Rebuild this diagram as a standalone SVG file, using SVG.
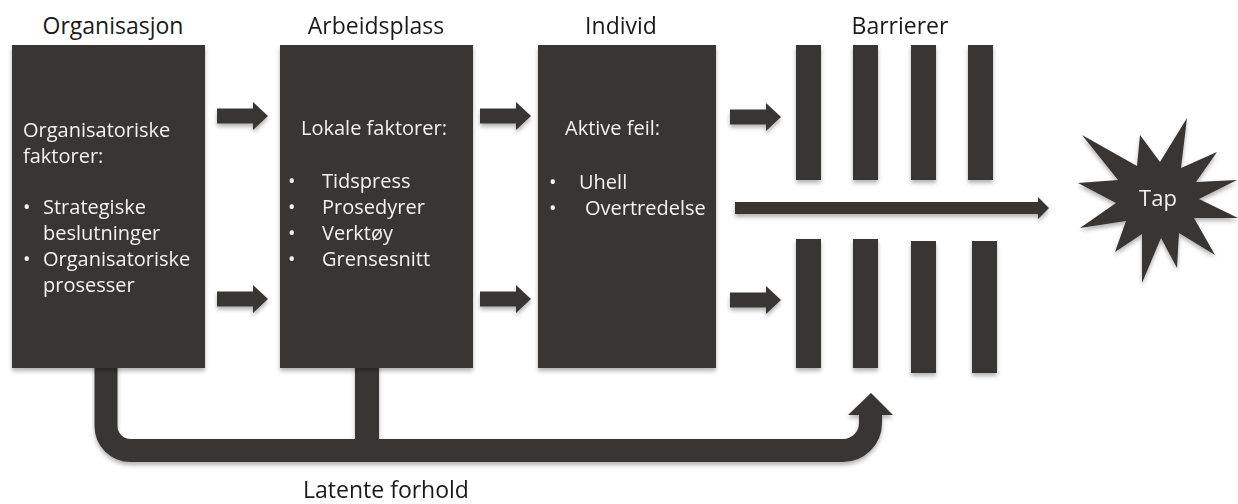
<svg xmlns="http://www.w3.org/2000/svg" xmlns:xlink="http://www.w3.org/1999/xlink" width="1238" height="504" viewBox="0 0 1238 504">
  <style>
    .shape { fill: #383635; }
    .title { font-family: "Open Sans", "Liberation Sans", sans-serif; font-size: 23px; fill: #1a1a1a; }
    .btext { font-family: "Open Sans", "Liberation Sans", sans-serif; font-size: 20px; fill: #f2f2f2; }
    .band { fill: none; stroke: #383635; stroke-width: 23; }
  </style>
  <defs>
    <filter id="sh" x="-20%" y="-20%" width="140%" height="140%">
      <feDropShadow dx="0" dy="3" stdDeviation="2" flood-color="#000" flood-opacity="0.3"/>
    </filter>
    <path id="sa" d="M0 -7.5 H36 V-14 L51 0 L36 14 V7.5 H0 Z"/>
  </defs>
  <rect width="1238" height="504" fill="#ffffff"/>

  <g id="connectors" filter="url(#sh)">
    <use xlink:href="#sa" class="shape" x="217" y="116"/>
    <use xlink:href="#sa" class="shape" x="217" y="299"/>
    <use xlink:href="#sa" class="shape" x="480" y="116"/>
    <use xlink:href="#sa" class="shape" x="480" y="299"/>
    <use xlink:href="#sa" class="shape" x="730" y="117"/>
    <use xlink:href="#sa" class="shape" x="730" y="300"/>
    <path class="shape" d="M735 202 H1038 V197 L1049 208 L1038 219 V214 H735 Z"/>
    <path class="band" d="M106 360 V426 A24.5 24.5 0 0 0 130.5 450.5 H843 A27.5 27.5 0 0 0 870.5 423 V412"/>
    <rect class="shape" x="355" y="360" width="24" height="85"/>
    <polygon class="shape" points="848,415 871,393 893,415"/>
  </g>

  <g id="organisasjon">
    <text class="title" x="113" y="34" text-anchor="middle">Organisasjon</text>
    <rect class="shape" x="12" y="45" width="193" height="323" filter="url(#sh)"/>
    <text class="btext" x="23" y="137">Organisatoriske</text>
    <text class="btext" x="23" y="163">faktorer:</text>
    <text class="btext" x="23" y="214">•</text>
    <text class="btext" x="43" y="214">Strategiske</text>
    <text class="btext" x="43" y="240">beslutninger</text>
    <text class="btext" x="23" y="266">•</text>
    <text class="btext" x="43" y="266">Organisatoriske</text>
    <text class="btext" x="43" y="292">prosesser</text>
  </g>

  <g id="arbeidsplass">
    <text class="title" x="376" y="34" text-anchor="middle">Arbeidsplass</text>
    <rect class="shape" x="280" y="45" width="193" height="323" filter="url(#sh)"/>
    <text class="btext" x="301" y="135">Lokale faktorer:</text>
    <text class="btext" x="288" y="188">•</text>
    <text class="btext" x="322" y="188">Tidspress</text>
    <text class="btext" x="288" y="214">•</text>
    <text class="btext" x="322" y="214">Prosedyrer</text>
    <text class="btext" x="288" y="240">•</text>
    <text class="btext" x="322" y="240">Verktøy</text>
    <text class="btext" x="288" y="266">•</text>
    <text class="btext" x="322" y="266">Grensesnitt</text>
  </g>

  <g id="individ">
    <text class="title" x="621" y="34" text-anchor="middle">Individ</text>
    <rect class="shape" x="538" y="45" width="178" height="323" filter="url(#sh)"/>
    <text class="btext" x="565" y="135">Aktive feil:</text>
    <text class="btext" x="549" y="189">•</text>
    <text class="btext" x="579" y="189">Uhell</text>
    <text class="btext" x="549" y="215">•</text>
    <text class="btext" x="585" y="215">Overtredelse</text>
  </g>

  <g id="barrierer">
    <text class="title" x="900" y="34" text-anchor="middle">Barrierer</text>
    <g filter="url(#sh)">
      <rect class="shape" x="796" y="45" width="25" height="135"/>
      <rect class="shape" x="853" y="45" width="25" height="135"/>
      <rect class="shape" x="911" y="45" width="25" height="135"/>
      <rect class="shape" x="968" y="45" width="25" height="135"/>
      <rect class="shape" x="796" y="239" width="25" height="129"/>
      <rect class="shape" x="853" y="239" width="25" height="129"/>
      <rect class="shape" x="911" y="241" width="25" height="132"/>
      <rect class="shape" x="972" y="241" width="25" height="132"/>
    </g>
  </g>

  <g id="tap">
    <polygon class="shape" filter="url(#sh)" points="1078,183 1118,180 1082,135 1137,166 1140,135 1160,162 1187,118 1181,168 1217,152 1196,182 1237,180 1199,199 1238,218 1194,218 1215,255 1179,233 1177,268 1161,238 1142,283 1142,234 1115,252 1126,221 1080,228 1116,203"/>
    <text x="1158" y="206" text-anchor="middle" style="font-family:'Open Sans','Liberation Sans',sans-serif;font-size:22px;fill:#f2f2f2">Tap</text>
  </g>

  <g id="latente">
    <text class="title" x="386" y="498" text-anchor="middle">Latente forhold</text>
  </g>
</svg>
